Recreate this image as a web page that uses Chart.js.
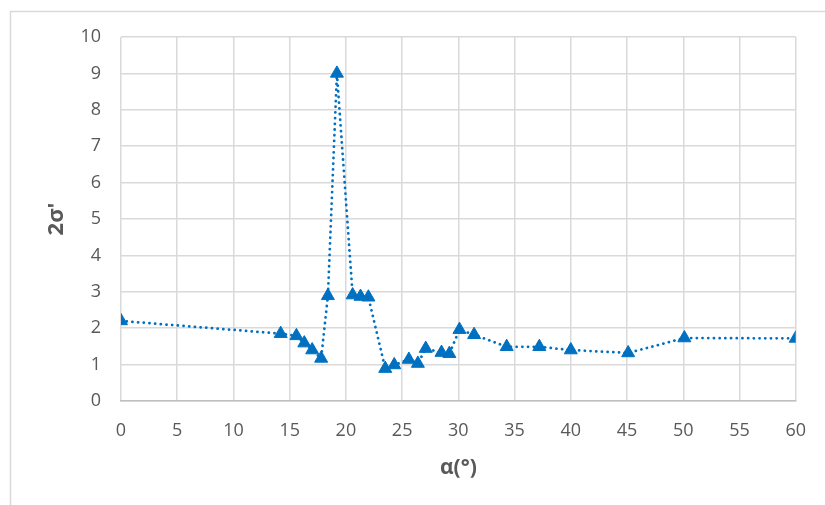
<!DOCTYPE html>
<html>
<head>
<meta charset="utf-8">
<script src="https://cdn.jsdelivr.net/npm/chart.js@4"></script>
<style>
	html, body { margin: 0; padding: 0; background: #fff; }
	#wrap { width: 825px; height: 505px; }
</style>
</head>
<body>
<div id="wrap"><canvas id="chart-sigma"></canvas></div>
<script>
// Data
const ALPHA = [0, 14.2, 15.6, 16.3, 17.0, 17.8, 18.4, 19.2, 20.6, 21.3, 22.0, 23.5, 24.3,
	25.6, 26.4, 27.1, 28.5, 29.2, 30.1, 31.4, 34.3, 37.2, 40.0, 45.1, 50.1, 60.0];
const SIGMA = [2.2, 1.85, 1.79, 1.59, 1.40, 1.17, 2.89, 9.0, 2.91, 2.87, 2.85, 0.89, 0.99,
	1.14, 1.03, 1.44, 1.33, 1.30, 1.96, 1.82, 1.49, 1.49, 1.40, 1.32, 1.73, 1.72];
const X_TICKS = [0, 5, 10, 15, 20, 25, 30, 35, 40, 45, 50, 55, 60];
const Y_TICKS = [0, 1, 2, 3, 4, 5, 6, 7, 8, 9, 10];

const BLUE = "#0070C0";
const GRID = "#d9d9d9";
const TEXT = "#595959";
const FONT = "'Open Sans', 'Liberation Sans', sans-serif";

// White background + outer chart frame
const framePlugin = {
	id: "frame",
	beforeDraw(chart) {
		const { ctx, width, height } = chart;
		ctx.save();
		ctx.fillStyle = "#fff";
		ctx.fillRect(0, 0, width, height);
		ctx.strokeStyle = GRID;
		ctx.lineWidth = 1.5;
		ctx.strokeRect(10.5, 11.5, width + 20, height + 20);
		ctx.restore();
	},
};

const CHART_DATA = {
	datasets: [
		{
			label: "2σ'",
			data: ALPHA.map((a, i) => ({ x: a, y: SIGMA[i] })),
			showLine: true,
			borderColor: BLUE,
			borderWidth: 2.75,
			borderDash: [0.1, 5.6],
			borderCapStyle: "round",
			pointStyle: "triangle",
			pointRadius: 7.5,
			pointBackgroundColor: BLUE,
			pointBorderColor: BLUE,
			pointBorderWidth: 1,
			tension: 0,
		},
	],
};

const CHART_CONFIG = {
	type: "scatter",
	data: CHART_DATA,
	plugins: [framePlugin],
	options: {
		responsive: true,
		maintainAspectRatio: false,
		animation: false,
		layout: {
			padding: { left: 0, right: 21, top: 37, bottom: 0 },
		},
		plugins: {
			legend: { display: false },
			title: { display: false },
			tooltip: { enabled: false },
		},
		scales: {
			x: {
				type: "linear",
				min: 0,
				max: 60,
				afterFit: (axis) => { axis.height = 104; },
				afterBuildTicks: (axis) => { axis.ticks = X_TICKS.map((v) => ({ value: v })); },
				border: { display: true, color: "#bfbfbf", width: 1.5 },
				grid: { color: GRID, lineWidth: 1.5, drawTicks: false },
				ticks: {
					padding: 19,
					color: TEXT,
					font: { family: FONT, size: 18 },
				},
				title: {
					display: true,
					text: "α(°)",
					color: TEXT,
					font: { family: FONT, size: 21, weight: "bold" },
					padding: { top: 0, bottom: 24 },
				},
			},
			y: {
				type: "linear",
				min: 0,
				max: 10,
				afterFit: (axis) => { axis.width = 121; },
				afterBuildTicks: (axis) => { axis.ticks = Y_TICKS.map((v) => ({ value: v })); },
				border: { display: false },
				grid: { color: GRID, lineWidth: 1.5, drawTicks: false },
				ticks: {
					padding: 20,
					color: TEXT,
					font: { family: FONT, size: 18 },
				},
				title: {
					display: true,
					text: "2σ'",
					color: TEXT,
					font: { family: FONT, size: 22, weight: "bold" },
					padding: { top: 44, bottom: 0 },
				},
			},
		},
	},
};

new Chart(document.getElementById("chart-sigma"), CHART_CONFIG);
</script>
</body>
</html>
